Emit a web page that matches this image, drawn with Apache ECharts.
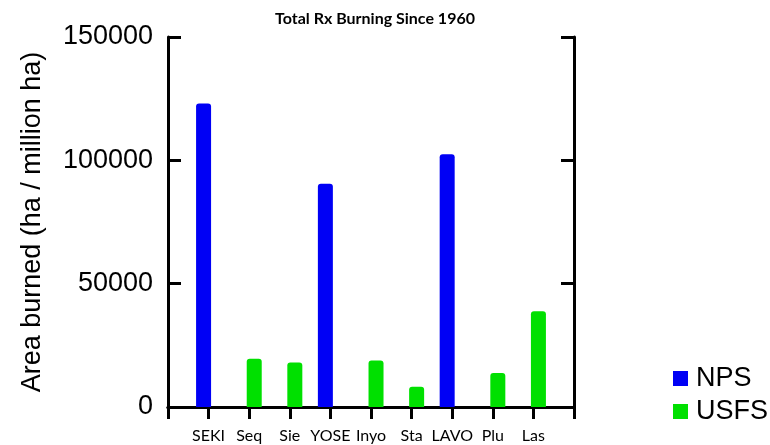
<!DOCTYPE html>
<html>
<head>
<meta charset="utf-8">
<title>Total Rx Burning Since 1960</title>
<script src="https://cdn.jsdelivr.net/npm/echarts@6/dist/echarts.min.js"></script>
<style>
  html, body { margin: 0; padding: 0; background: #fff; }
  #chart { width: 770px; height: 445px; }
</style>
</head>
<body>
<div id="chart"></div>
<script>
var categories = ['SEKI', 'Seq', 'Sie', 'YOSE', 'Inyo', 'Sta', 'LAVO', 'Plu', 'Las'];
var npsValues  = [123000, null, null, 90500, null, null, 102500, null, null];
var usfsValues = [null, 19600, 18000, null, 18900, 8200, null, 13800, 38800];
var yTicks = [0, 50000, 100000, 150000];

// pad one empty slot on each side so the categories sit inside the box
var axisData = [''].concat(categories, ['']);
function pad(arr) {
    return [null].concat(arr, [null]).map(function (v) { return v === null ? '-' : v; });
}

var chart = echarts.init(document.getElementById('chart'));
var lineStyle = { color: '#000', width: 3 };

chart.setOption({
    animation: false,
    title: {
        text: 'Total Rx Burning Since 1960',
        left: 370,
        textAlign: 'center',
        top: 6,
        textStyle: { fontFamily: 'Lato', fontWeight: 'bold', fontSize: 16, color: '#000' }
    },
    legend: {
        orient: 'vertical',
        left: 668,
        top: 360,
        itemWidth: 15,
        itemHeight: 15,
        itemGap: 6,
        icon: 'rect',
        textStyle: { fontFamily: 'Liberation Sans', fontSize: 27, color: '#000', padding: [0, 0, 0, 3] },
        data: ['NPS', 'USFS']
    },
    grid: { left: 168, right: 196, top: 37, bottom: 38 },
    xAxis: [
        {
            type: 'category',
            data: axisData,
            boundaryGap: false,
            position: 'bottom',
            axisLine: { lineStyle: lineStyle },
            axisTick: { show: false },
            axisLabel: {
                interval: 0,
                margin: 21,
                fontFamily: 'Lato',
                fontSize: 16,
                color: '#000'
            },
            splitLine: { show: false }
        },
        {
            type: 'category',
            data: axisData,
            boundaryGap: false,
            position: 'top',
            axisLine: { lineStyle: lineStyle },
            axisTick: { inside: true, length: 12, interval: 0, lineStyle: lineStyle },
            axisLabel: { show: false },
            splitLine: { show: false }
        }
    ],
    yAxis: [
        {
            type: 'value',
            min: yTicks[0],
            max: yTicks[yTicks.length - 1],
            interval: 50000,
            position: 'left',
            name: 'Area burned (ha / million ha)',
            nameLocation: 'middle',
            nameGap: 122,
            nameTextStyle: { fontFamily: 'Liberation Sans', fontSize: 27, color: '#000' },
            axisLine: { show: true, lineStyle: lineStyle },
            axisTick: { show: true, inside: true, length: 13, lineStyle: lineStyle },
            axisLabel: {
                margin: 15,
                fontFamily: 'Liberation Sans',
                fontSize: 27,
                color: '#000',
                formatter: function (v) { return String(v); }
            },
            splitLine: { show: false }
        },
        {
            type: 'value',
            min: yTicks[0],
            max: yTicks[yTicks.length - 1],
            interval: 50000,
            position: 'right',
            axisLine: { show: true, lineStyle: lineStyle },
            axisTick: { show: true, inside: true, length: 13, lineStyle: lineStyle },
            axisLabel: { show: false },
            splitLine: { show: false }
        }
    ],
    series: [
        {
            name: 'NPS',
            type: 'bar',
            data: pad(npsValues),
            barWidth: 15,
            barGap: '-33%',
            itemStyle: { color: '#0000f5', borderRadius: [3, 3, 0, 0] },
            z: 1
        },
        {
            name: 'USFS',
            type: 'bar',
            data: pad(usfsValues),
            barWidth: 15,
            itemStyle: { color: '#00e000', borderRadius: [3, 3, 0, 0] },
            z: 1
        }
    ]
});
</script>
</body>
</html>
